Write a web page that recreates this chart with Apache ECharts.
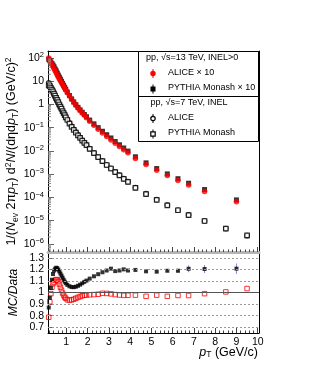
<!DOCTYPE html>
<html><head><meta charset="utf-8">
<script src="https://cdn.jsdelivr.net/npm/echarts@6/dist/echarts.min.js"></script>
<style>html,body{margin:0;padding:0;background:#fff}#c{width:311px;height:365px}</style>
</head><body><div id="c"></div>
<script>
// ---- data ----
const pt13 = [0.175,0.225,0.275,0.325,0.375,0.425,0.475,0.525,0.575,0.625,0.675,0.725,0.775,0.825,0.875,0.925,0.975,
  1.05,1.15,1.25,1.35,1.45,1.55,1.65,1.75,1.85,1.95,
  2.1,2.3,2.5,2.7,2.9,3.1,3.3,3.5,3.7,3.9,
  4.25,4.75,5.25,5.75,6.25,6.75,7.5,9.0];
const alice13x10 = [100,80,65,52,43,35,28,23,18.6,15.3,12.6,10.5,8.7,7.2,6.0,5.0,4.2,
  3.2,2.3,1.66,1.23,0.93,0.71,0.55,0.43,0.34,0.27,
  0.19,0.129,0.087,0.060,0.042,0.030,0.0214,0.0155,0.0112,0.0083,
  0.0047,0.0026,0.00148,0.00087,0.00054,0.00034,0.000182,0.000065];
const pythia13x10 = [87,76.4,67.6,57.7,49.9,41.7,33.7,27.9,22.5,18.3,14.9,12.2,9.97,8.12,6.66,5.47,4.54,
  3.41,2.42,1.74,1.29,0.977,0.751,0.587,0.464,0.371,0.298,
  0.213,0.147,0.1007,0.0705,0.050,0.0362,0.0254,0.01845,0.01344,0.00988,
  0.00562,0.00308,0.00175,0.00103,0.000642,0.00041,0.000219,0.0000784];
const ratio13 = [0.87,0.955,1.04,1.11,1.16,1.19,1.205,1.214,1.21,1.198,1.182,1.164,1.146,1.128,1.11,1.094,1.08,
  1.066,1.054,1.047,1.046,1.05,1.058,1.068,1.08,1.092,1.103,
  1.12,1.14,1.158,1.175,1.19,1.206,1.185,1.19,1.2,1.19,
  1.195,1.183,1.18,1.188,1.188,1.205,1.203,1.206];
const err13 = [0,0,0,0,0,0,0,0,0,0,0,0,0,0,0,0,0,
  0,0,0,0,0,0,0,0,0,0,
  0,0,0,0,0,0,0,0,0,0,
  0.006,0.008,0.01,0.012,0.018,0.03,0.035,0.045];

const pt7 = [0.175,0.225,0.275,0.325,0.375,0.425,0.475,0.525,0.575,0.625,0.675,0.725,0.775,0.825,0.875,0.925,0.975,
  1.05,1.15,1.25,1.35,1.45,1.55,1.65,1.75,1.85,1.95,
  2.1,2.3,2.5,2.7,2.9,3.1,3.3,3.5,3.7,3.9,
  4.25,4.75,5.25,5.75,6.25,6.75,7.5,8.5,9.5];
const alice7 = [8.5,6.7,5.25,4.17,3.39,2.69,2.19,1.74,1.41,1.16,0.933,0.776,0.646,0.525,0.437,0.363,0.295,
  0.229,0.162,0.117,0.0851,0.0646,0.049,0.038,0.0288,0.0229,0.0182,
  0.0126,0.0083,0.0055,0.00372,0.00251,0.00178,0.00126,0.00091,0.000646,0.000479,
  0.000263,0.000145,0.0000813,0.0000468,0.0000288,0.0000178,0.0000098,0.00000457,0.00000226];
const pythia7 = [6.68,6.16,5.2,4.36,3.64,2.93,2.42,1.93,1.57,1.27,1.0,0.811,0.659,0.522,0.426,0.348,0.280,
  0.215,0.151,0.1095,0.0802,0.0614,0.0469,0.0367,0.028,0.02235,0.0178,
  0.01235,0.00815,0.00542,0.00369,0.00249,0.00176,0.00124,0.00089,0.00063,0.000468,
  0.000257,0.00014,0.0000794,0.0000453,0.0000281,0.0000173,0.0000097,0.00000459,0.00000234];
const ratio7 = [0.786,0.92,0.99,1.045,1.075,1.09,1.105,1.112,1.11,1.095,1.072,1.045,1.02,0.995,0.975,0.96,0.95,
  0.937,0.934,0.936,0.942,0.95,0.958,0.965,0.972,0.976,0.978,
  0.98,0.982,0.985,0.993,0.992,0.988,0.982,0.978,0.975,0.976,
  0.977,0.967,0.977,0.967,0.974,0.974,0.99,1.005,1.034];

// ---- axes ticks / labels ----
const xLabels = [1,2,3,4,5,6,7,8,9,10];
const ratioLabels = [0.7,0.8,0.9,1.0,1.1,1.2,1.3];
const ratioDashed = [0.7,0.8,0.9,1.1,1.2,1.3];
const X_MIN = 0.14, X_MAX = 10.06;
const xMinor = []; for (let i = 1; i <= 50; i++) xMinor.push(+(i*0.2).toFixed(1));
const yMinor = []; for (let e = -7; e <= 2; e++) for (let m = 2; m <= 9; m++) { const v = m*Math.pow(10,e); if (v > 4.5e-7 && v < 200) yMinor.push(v); }

const FONT = "'Liberation Sans', Arial, sans-serif";
const MINUS = '\u2212';

function logLabel(v){
  const e = Math.round(Math.log10(v));
  if (Math.abs(Math.log10(v) - e) > 0.01) return '';
  if (e === 0) return '1';
  if (e === 1) return '10';
  return '10{s|' + (e < 0 ? MINUS + (-e) : e) + '}';
}

const chart = echarts.init(document.getElementById('c'), null, {renderer:'canvas'});
const grids = [
  {left:48, right:52, top:51, height:201, show:false, containLabel:false, outerBoundsMode:'none'},
  {left:48, right:52, top:252, height:81, show:false, containLabel:false, outerBoundsMode:'none'}
];
const tickStyle = {color:'#444', width:1};
const xAxes = [
  {gridIndex:0, type:'value', min:X_MIN, max:X_MAX, position:'bottom',
   axisLine:{show:true, lineStyle:{color:'#b4b4b4', width:3}},
   axisTick:{show:true, inside:true, length:5, lineStyle:tickStyle, customValues:xLabels},
   axisLabel:{show:false}, splitLine:{show:false}},
  {gridIndex:0, type:'value', min:X_MIN, max:X_MAX, position:'bottom',
   axisLine:{show:false}, axisTick:{show:true, inside:true, length:2.5, lineStyle:tickStyle, customValues:xMinor},
   axisLabel:{show:false}, splitLine:{show:false}},
  {gridIndex:0, type:'value', min:X_MIN, max:X_MAX, position:'top',
   axisLine:{show:true, lineStyle:{color:'#000', width:1}}, axisTick:{show:false}, axisLabel:{show:false}, splitLine:{show:false}},
  {gridIndex:1, type:'value', min:X_MIN, max:X_MAX, position:'bottom',
   axisLine:{show:true, lineStyle:{color:'#000', width:1}},
   axisTick:{show:true, inside:true, length:5, lineStyle:tickStyle, customValues:xLabels},
   axisLabel:{show:true, customValues:xLabels, fontFamily:FONT, fontSize:10.5, color:'#000', margin:4},
   splitLine:{show:false}},
  {gridIndex:1, type:'value', min:X_MIN, max:X_MAX, position:'bottom',
   axisLine:{show:false}, axisTick:{show:true, inside:true, length:2.5, lineStyle:tickStyle, customValues:xMinor},
   axisLabel:{show:false}, splitLine:{show:false}}
];
const yAxes = [
  {gridIndex:0, type:'log', logBase:10, min:4.5e-7, max:200, splitNumber:9, position:'left',
   axisLine:{show:true, lineStyle:{color:'#000'}},
   axisTick:{show:true, inside:true, length:6, lineStyle:{color:'#666'}},
   minorTick:{show:false},
   axisLabel:{show:true, showMinLabel:false, showMaxLabel:false, formatter:logLabel, fontFamily:FONT, fontSize:10.5, color:'#000', margin:4, lineHeight:14,
     rich:{s:{fontSize:7.5, verticalAlign:'top', fontFamily:FONT, color:'#000', lineHeight:8}}},
   splitLine:{show:false},
   name:'1/({it|N}{sub|ev} 2\u03C0{it|p}{sub|T}) d{sup|2}{it|N}/(d\u03B7d{it|p}{sub|T}) (GeV/c){sup|2}',
   nameLocation:'middle', nameGap:28, nameRotate:90, nameMoveOverlap:false,
   nameTextStyle:{fontFamily:FONT, fontSize:12.5, color:'#000', lineHeight:16,
     rich:{it:{fontStyle:'italic', fontSize:12.5, fontFamily:FONT}, sub:{fontSize:8.5, verticalAlign:'bottom', fontFamily:FONT}, sup:{fontSize:8.5, verticalAlign:'top', fontFamily:FONT}}}},
  {gridIndex:0, type:'value', min:0, max:1, position:'right',
   axisLine:{show:true, lineStyle:{color:'#000'}}, axisTick:{show:false}, axisLabel:{show:false}, splitLine:{show:false}},
  {gridIndex:1, type:'value', min:0.65, max:1.35, position:'left',
   axisLine:{show:true, lineStyle:{color:'#000'}},
   axisTick:{show:true, inside:true, length:5, lineStyle:{color:'#666'}, customValues:ratioLabels},
   axisLabel:{show:true, customValues:ratioLabels, formatter:v => (Math.abs(v-1) < 1e-6 ? '1' : v.toFixed(1)), fontFamily:FONT, fontSize:10.5, color:'#000', margin:4},
   splitLine:{show:false},
   name:'MC/Data', nameLocation:'middle', nameGap:28, nameRotate:90, nameMoveOverlap:false,
   nameTextStyle:{fontFamily:FONT, fontSize:12, fontStyle:'italic', color:'#000'}},
  {gridIndex:1, type:'value', min:0, max:1, position:'right',
   axisLine:{show:true, lineStyle:{color:'#000'}}, axisTick:{show:false}, axisLabel:{show:false}, splitLine:{show:false}}
];

const zip = (a,b) => a.map((v,i) => [v, b[i]]);

const series = [
  {type:'custom', xAxisIndex:0, yAxisIndex:0, silent:true, clip:false, z:5,
   data: yMinor.map(v => [X_MIN, v]),
   renderItem:(p, api) => { const c = api.coord([api.value(0), api.value(1)]);
     return {type:'line', shape:{x1:c[0], y1:c[1], x2:c[0]+3, y2:c[1]}, style:{stroke:'#888', lineWidth:1}}; }},
  {name:'PYTHIA Monash ×10', type:'scatter', xAxisIndex:0, yAxisIndex:0, data:zip(pt13, pythia13x10),
   symbol:'rect', symbolSize:5, itemStyle:{color:'#000'}, z:3},
  {name:'ALICE ×10', type:'scatter', xAxisIndex:0, yAxisIndex:0, data:zip(pt13, alice13x10),
   symbol:'circle', symbolSize:5.5, itemStyle:{color:'#ff0000'}, z:4},
  {name:'ALICE 7', type:'scatter', xAxisIndex:0, yAxisIndex:0, data:zip(pt7, alice7),
   symbol:'circle', symbolSize:4.5, itemStyle:{color:'rgba(0,0,0,0)', borderColor:'#000', borderWidth:1.2}, z:3},
  {name:'PYTHIA 7', type:'scatter', xAxisIndex:0, yAxisIndex:0, data:zip(pt7, pythia7),
   symbol:'rect', symbolSize:4.5, itemStyle:{color:'#fff', borderColor:'#000', borderWidth:1.2}, z:3},
  {type:'custom', xAxisIndex:3, yAxisIndex:2, silent:true, z:2,
   data: pt13.map((v,i) => [v, ratio13[i], err13[i]]).filter(d => d[2] > 0),
   renderItem:(p, api) => { const a = api.coord([api.value(0), api.value(1)-api.value(2)]);
     const b = api.coord([api.value(0), api.value(1)+api.value(2)]);
     return {type:'line', shape:{x1:a[0], y1:a[1], x2:b[0], y2:b[1]}, style:{stroke:'#8888dd', lineWidth:1}}; }},
  {type:'scatter', xAxisIndex:3, yAxisIndex:2, data:zip(pt7, ratio7),
   symbol:'rect', symbolSize:4.5, itemStyle:{color:'rgba(0,0,0,0)', borderColor:'#ff0000', borderWidth:1}, z:3,
   markLine:{silent:true, symbol:'none', label:{show:false}, animation:false,
     lineStyle:{color:'#9a9a9a', type:[2,2], width:1}, data: ratioDashed.map(v => ({yAxis:v}))}},
  {type:'scatter', xAxisIndex:3, yAxisIndex:2, data:zip(pt13, ratio13),
   symbol:'rect', symbolSize:4, itemStyle:{color:'#000'}, z:4,
   markLine:{silent:true, symbol:'none', label:{show:false}, animation:false,
     lineStyle:{color:'#555', type:'solid', width:1}, data:[{yAxis:1}]}}
];

const T = (x, y, text) => ({type:'text', left:x, top:y-5.5, z:100, style:{text, fontFamily:FONT, fontSize:9, fill:'#000'}});
const graphic = [
  {type:'rect', z:90, shape:{x:138.5, y:51.5, width:120, height:90}, style:{fill:'#fff', stroke:'#000', lineWidth:1}},
  {type:'line', z:91, shape:{x1:138.5, y1:96.5, x2:258.5, y2:96.5}, style:{stroke:'#000', lineWidth:1}},
  T(146, 59, 'pp, \u221As=13 TeV, INEL>0'),
  {type:'line', z:95, shape:{x1:153, y1:69, x2:153, y2:78}, style:{stroke:'#ff0000', lineWidth:1}},
  {type:'circle', z:96, shape:{cx:153, cy:73.5, r:2.7}, style:{fill:'#ff0000'}},
  T(168, 73.5, 'ALICE \u00D7 10'),
  {type:'line', z:95, shape:{x1:153, y1:84.5, x2:153, y2:93.5}, style:{stroke:'#000', lineWidth:1}},
  {type:'rect', z:96, shape:{x:150.5, y:86.5, width:5, height:5}, style:{fill:'#000'}},
  T(168, 89, 'PYTHIA Monash \u00D7 10'),
  T(150.5, 103.5, 'pp, \u221As=7 TeV, INEL'),
  {type:'line', z:95, shape:{x1:153, y1:114, x2:153, y2:123}, style:{stroke:'#000', lineWidth:1}},
  {type:'circle', z:96, shape:{cx:153, cy:118.5, r:2.2}, style:{fill:'#fff', stroke:'#000', lineWidth:1.2}},
  T(168, 118.5, 'ALICE'),
  {type:'line', z:95, shape:{x1:153, y1:129.5, x2:153, y2:138.5}, style:{stroke:'#000', lineWidth:1}},
  {type:'rect', z:96, shape:{x:150.8, y:131.8, width:4.4, height:4.4}, style:{fill:'#fff', stroke:'#000', lineWidth:1.2}},
  T(168, 134, 'PYTHIA Monash'),
  {type:'text', right:53, top:346, z:100,
   style:{text:'{it|p}{sub|T} (GeV/c)', fontFamily:FONT, fontSize:12.5, fill:'#000',
     rich:{it:{fontStyle:'italic', fontSize:12.5, fontFamily:FONT, fill:'#000'}, sub:{fontSize:8.5, verticalAlign:'bottom', fontFamily:FONT, fill:'#000'}}}}
];

chart.setOption({
  animation:false,
  backgroundColor:'#fff',
  grid:grids, xAxis:xAxes, yAxis:yAxes, series, graphic
});
</script></body></html>
